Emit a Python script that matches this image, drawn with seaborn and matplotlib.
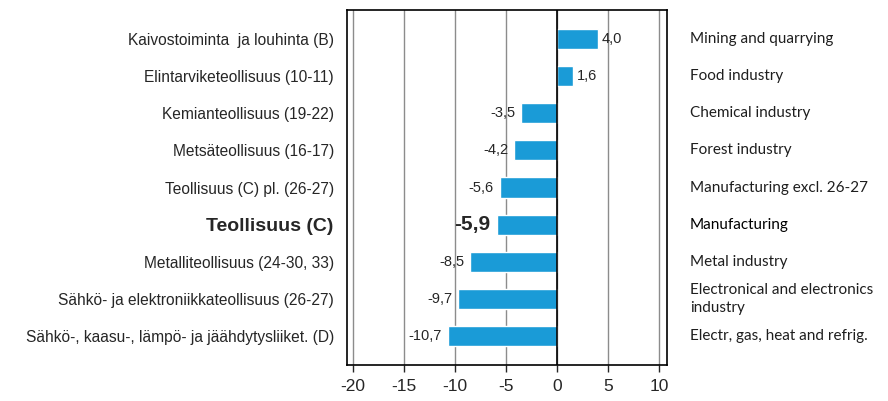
import matplotlib
matplotlib.use("Agg")
import matplotlib.pyplot as plt
import seaborn as sns
import pandas as pd

categories_fi = [
    "Kaivostoiminta  ja louhinta (B)",
    "Elintarviketeollisuus (10-11)",
    "Kemianteollisuus (19-22)",
    "Metsäteollisuus (16-17)",
    "Teollisuus (C) pl. (26-27)",
    "Teollisuus (C)",
    "Metalliteollisuus (24-30, 33)",
    "Sähkö- ja elektroniikkateollisuus (26-27)",
    "Sähkö-, kaasu-, lämpö- ja jäähdytysliiket. (D)",
]
categories_en = [
    "Mining and quarrying",
    "Food industry",
    "Chemical industry",
    "Forest industry",
    "Manufacturing excl. 26-27",
    "Manufacturing",
    "Metal industry",
    "Electronical and electronics\nindustry",
    "Electr, gas, heat and refrig.",
]
values = [4.0, 1.6, -3.5, -4.2, -5.6, -5.9, -8.5, -9.7, -10.7]
highlight = "Teollisuus (C)"
xticks = [-20, -15, -10, -5, 0, 5, 10]

df = pd.DataFrame({"label": categories_fi, "value": values})

sns.set_style("white")
plt.rcParams["font.family"] = ["Liberation Sans", "DejaVu Sans"]

fig = plt.figure(figsize=(8.88, 4.01), dpi=100)
ax = fig.add_axes([0.3908, 0.0898, 0.3604, 0.8852])

for x in xticks:
    ax.axvline(x, color="#8c8c8c", lw=1.0, zorder=0)

sns.barplot(data=df, x="value", y="label", orient="h", color="#1a9bd7",
            saturation=1, width=0.54, ax=ax, zorder=2)
ax.axvline(0, color="black", lw=1.2, zorder=3)

ax.set_xlim(-20.6, 10.8)
ax.set_ylim(8.78, -0.78)
ax.set_xticks(xticks)
ax.set_xticklabels([str(t) for t in xticks], fontsize=12.5)
ax.tick_params(axis="x", bottom=True, length=5, width=1, pad=5)
ax.tick_params(axis="y", left=False, pad=6)
ax.set_xlabel("")
ax.set_ylabel("")
for s in ax.spines.values():
    s.set_visible(True)
    s.set_color("black")
    s.set_linewidth(1.2)

for lbl in ax.get_yticklabels():
    if lbl.get_text() == highlight:
        lbl.set_fontsize(14)
        lbl.set_fontweight("bold")
    else:
        lbl.set_fontsize(11.2)

for i, (name, v) in enumerate(zip(categories_fi, values)):
    txt = f"{v:.1f}".replace(".", ",")
    bold = name == highlight
    if v >= 0:
        ax.text(v + 0.4, i, txt, ha="left", va="center", fontsize=10.5)
    else:
        ax.text(v - 0.6, i, txt, ha="right", va="center",
                fontsize=15 if bold else 10.5,
                fontweight="bold" if bold else "normal")

ytr = ax.get_yaxis_transform()
for i, name in enumerate(categories_en):
    ax.text(1.072, i, name, transform=ytr, ha="left", va="center",
            fontsize=11, family=["Lato", "DejaVu Sans"],
            color="black" if i == 5 else "#1e1e1e",
            linespacing=1.3)

fig.savefig("out.png", dpi=100)
